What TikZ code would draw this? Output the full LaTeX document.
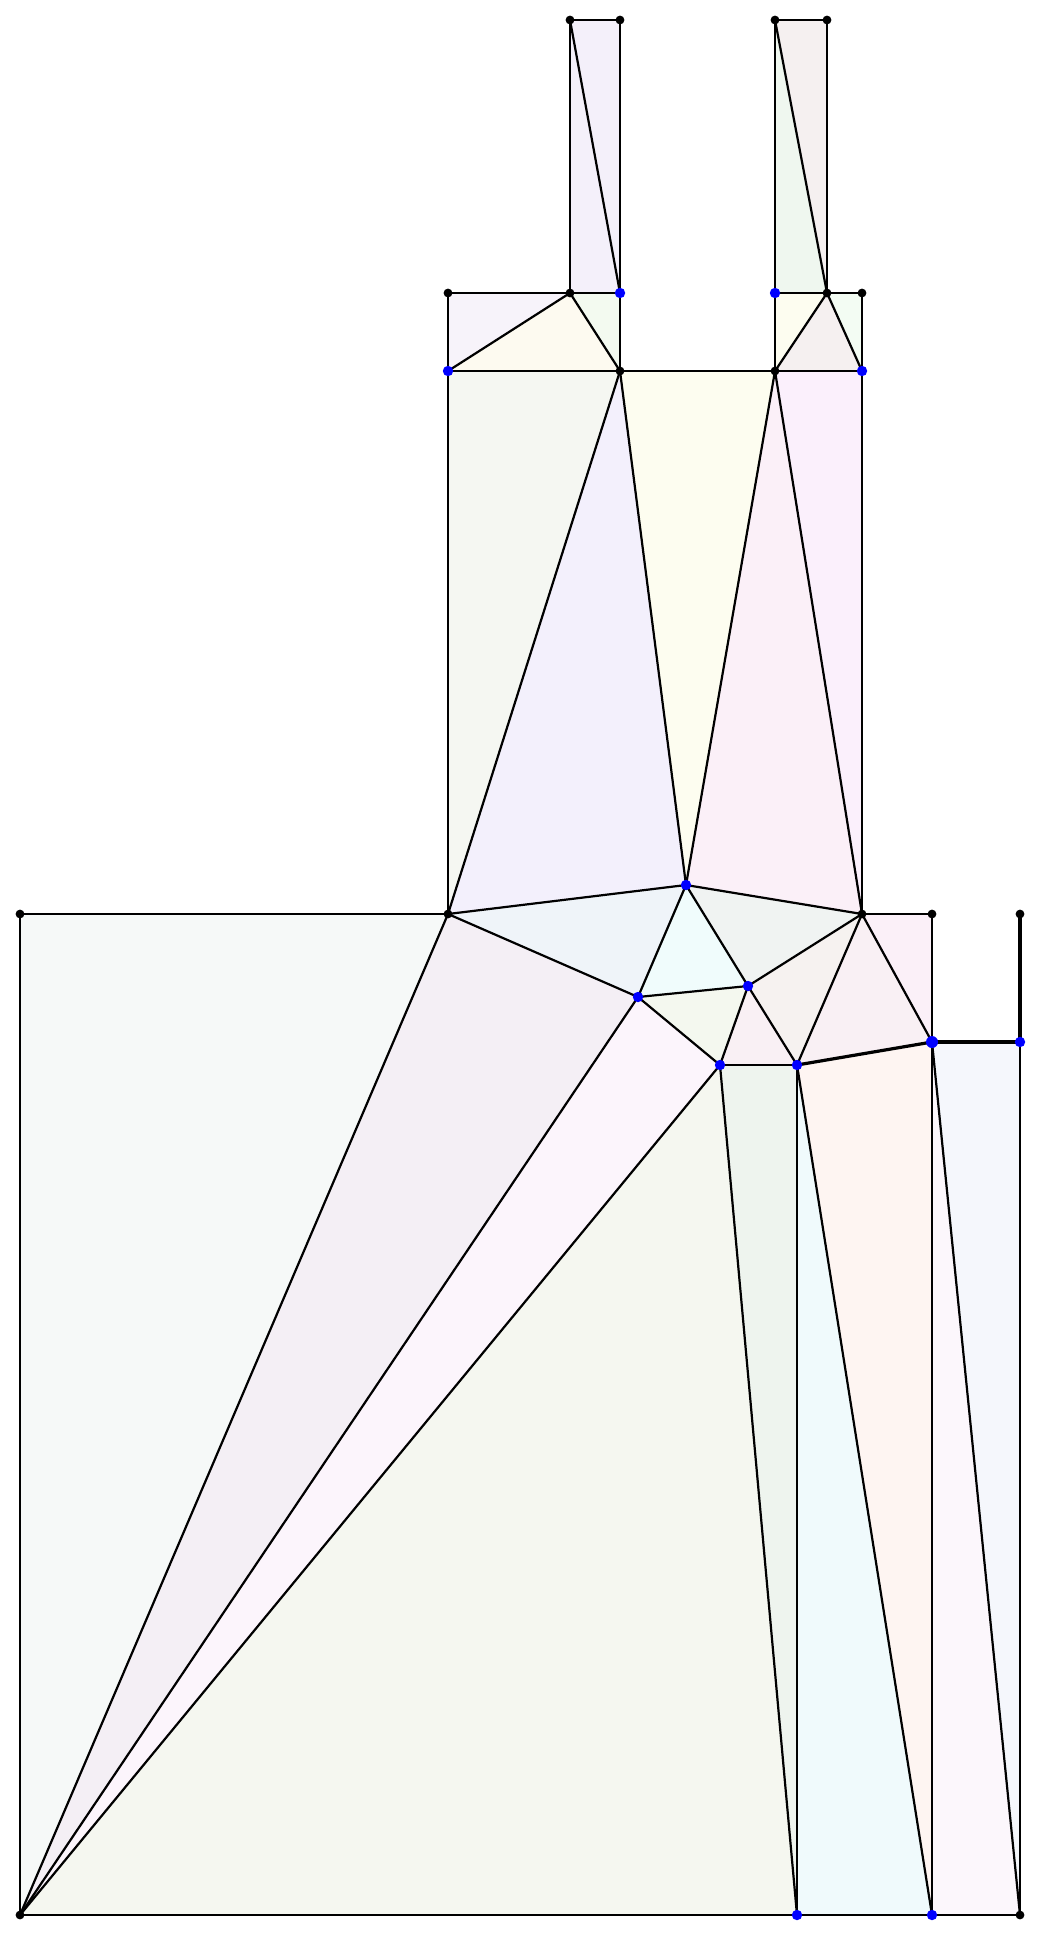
\documentclass[tikz,border=0pt]{standalone}
\usepackage{xcolor}
\usepackage{tikz}
\definecolor{meshink}{HTML}{000000}
\definecolor{meshblue}{HTML}{0000FF}
\definecolor{lavA}{HTML}{F4F0FA}
\definecolor{lavB}{HTML}{F7F3FA}
\definecolor{lavC}{HTML}{F3F0FC}
\definecolor{lilac}{HTML}{F4EFF5}
\definecolor{creamA}{HTML}{FDFAF0}
\definecolor{yellowA}{HTML}{FDFDF0}
\definecolor{greenA}{HTML}{F3FAF0}
\definecolor{greenB}{HTML}{EFF7EF}
\definecolor{greenC}{HTML}{EEF4EE}
\definecolor{mintA}{HTML}{F3FCF3}
\definecolor{rosyA}{HTML}{F5F0F0}
\definecolor{rosyB}{HTML}{F6F2F0}
\definecolor{roseA}{HTML}{F9F0F4}
\definecolor{pinkA}{HTML}{FBF0F8}
\definecolor{pinkB}{HTML}{FCF5FC}
\definecolor{pinkC}{HTML}{FCF7FC}
\definecolor{magA}{HTML}{FBF0FC}
\definecolor{sageA}{HTML}{F5F7F2}
\definecolor{sageB}{HTML}{F5F7F0}
\definecolor{oliveA}{HTML}{F4F8EF}
\definecolor{greyA}{HTML}{F6F9F8}
\definecolor{greyB}{HTML}{F0F3F2}
\definecolor{skyA}{HTML}{EFF4F9}
\definecolor{blueA}{HTML}{F5F7FC}
\definecolor{cyanA}{HTML}{F0FCFC}
\definecolor{cyanB}{HTML}{F0FAFC}
\definecolor{peachA}{HTML}{FEF5F2}
\tikzset{
  edge/.style={draw=meshink, line width=2.2pt, line join=round, line cap=round},
  heavyedge/.style={edge, line width=4.2pt},
  midedge/.style={edge, line width=3.2pt},
  bdot/.style={fill=meshink},
  udot/.style={fill=meshblue}
}

\begin{document}
\begin{tikzpicture}[x=1pt, y=-1pt]
\useasboundingbox (0,0) rectangle (1040,1935);
\coordinate (c1a) at (570,20); \coordinate (c1b) at (620,20);
\coordinate (c2a) at (775,20); \coordinate (c2b) at (827,20);
\coordinate (m1) at (448,293); \coordinate (m2) at (570,293); \coordinate (m3) at (620,293);
\coordinate (m4) at (775,293); \coordinate (m5) at (827,293); \coordinate (m6) at (862,293);
\coordinate (n1) at (448,371); \coordinate (n2) at (620,371);
\coordinate (n3) at (775,371); \coordinate (n4) at (862,371);
\coordinate (L) at (20,914); \coordinate (A) at (448,914); \coordinate (P) at (686,885);
\coordinate (Q) at (862,914); \coordinate (R) at (932,914); \coordinate (S) at (1020,914);
\coordinate (T) at (638,997); \coordinate (U) at (748,986); \coordinate (V) at (720,1065);
\coordinate (W) at (797,1065); \coordinate (X) at (932,1042); \coordinate (Y) at (1020,1042);
\coordinate (BL) at (20,1915); \coordinate (B1) at (797,1915);
\coordinate (B2) at (932,1915); \coordinate (B3) at (1020,1915);
\fill[lavA] (c1a)--(c1b)--(m3)--cycle; \fill[lavA] (c1a)--(m2)--(m3)--cycle;
\fill[greenB] (c2a)--(m4)--(m5)--cycle; \fill[rosyA] (c2a)--(c2b)--(m5)--cycle;
\fill[lavB] (m1)--(m2)--(n1)--cycle; \fill[creamA] (m2)--(n1)--(n2)--cycle;
\fill[greenA] (m2)--(m3)--(n2)--cycle; \fill[yellowA] (m4)--(m5)--(n3)--cycle;
\fill[rosyA] (m5)--(n3)--(n4)--cycle; \fill[mintA] (m5)--(m6)--(n4)--cycle;
\fill[sageA] (n1)--(n2)--(A)--cycle; \fill[lavC] (n2)--(A)--(P)--cycle;
\fill[yellowA] (n2)--(P)--(n3)--cycle; \fill[pinkA] (n3)--(P)--(Q)--cycle;
\fill[magA] (n3)--(n4)--(Q)--cycle;
\fill[greyA] (L)--(A)--(BL)--cycle; \fill[skyA] (A)--(P)--(T)--cycle;
\fill[cyanA] (P)--(T)--(U)--cycle; \fill[greyB] (P)--(U)--(Q)--cycle;
\fill[oliveA] (T)--(U)--(V)--cycle; \fill[roseA] (U)--(V)--(W)--cycle;
\fill[rosyB] (U)--(W)--(Q)--cycle; \fill[roseA] (Q)--(W)--(X)--cycle;
\fill[pinkA] (Q)--(R)--(X)--cycle; \fill[lilac] (A)--(T)--(BL)--cycle;
\fill[pinkB] (T)--(V)--(BL)--cycle; \fill[sageB] (V)--(B1)--(BL)--cycle;
\fill[greenC] (V)--(W)--(B1)--cycle; \fill[cyanB] (W)--(B1)--(B2)--cycle;
\fill[peachA] (W)--(X)--(B2)--cycle; \fill[pinkC] (X)--(B2)--(B3)--cycle;
\fill[blueA] (X)--(Y)--(B3)--cycle;
\draw[edge] (c1a)--(c1b); \draw[edge] (c1a)--(m2); \draw[edge] (c1b)--(m3); \draw[edge] (c1a)--(m3);
\draw[edge] (c2a)--(c2b); \draw[edge] (c2a)--(m4); \draw[edge] (c2b)--(m5); \draw[edge] (c2a)--(m5);
\draw[edge] (m1)--(m2); \draw[edge] (m2)--(m3); \draw[edge] (m4)--(m5); \draw[edge] (m5)--(m6);
\draw[edge] (m1)--(n1); \draw[edge] (m3)--(n2); \draw[edge] (m4)--(n3); \draw[edge] (m6)--(n4);
\draw[edge] (m2)--(n1); \draw[edge] (m2)--(n2); \draw[edge] (m5)--(n3); \draw[edge] (m5)--(n4);
\draw[edge] (n1)--(n2); \draw[edge] (n2)--(n3); \draw[edge] (n3)--(n4);
\draw[edge] (n1)--(A); \draw[edge] (n4)--(Q); \draw[edge] (n2)--(A); \draw[edge] (n2)--(P);
\draw[edge] (n3)--(P); \draw[edge] (n3)--(Q);
\draw[edge] (L)--(A); \draw[edge] (L)--(BL); \draw[edge] (BL)--(B1); \draw[edge] (B1)--(B2); \draw[edge] (B2)--(B3);
\draw[edge] (A)--(P); \draw[edge] (P)--(Q); \draw[edge] (Q)--(R); \draw[edge] (R)--(X);
\draw[edge] (A)--(T); \draw[edge] (P)--(T); \draw[edge] (P)--(U); \draw[edge] (T)--(U);
\draw[edge] (Q)--(U); \draw[edge] (U)--(V); \draw[edge] (U)--(W); \draw[edge] (T)--(V);
\draw[edge] (V)--(W); \draw[edge] (Q)--(W); \draw[edge] (Q)--(X);
\draw[edge] (BL)--(A); \draw[edge] (BL)--(T); \draw[edge] (BL)--(V);
\draw[edge] (V)--(B1); \draw[edge] (W)--(B1); \draw[edge] (W)--(B2); \draw[edge] (X)--(B2);
\draw[edge] (X)--(B3); \draw[edge] (Y)--(B3);
\draw[midedge] (W)--(X); \draw[heavyedge] (X)--(Y); \draw[heavyedge] (S)--(Y);
\foreach \v in {c1a,c1b,c2a,c2b,m1,m2,m5,m6,n2,n3,L,A,Q,R,S,BL,B3}
  \fill[bdot] (\v) circle (4.4);
\foreach \v in {m3,m4,n1,n4,P,T,U,V,W,Y,B1,B2}
  \fill[udot] (\v) circle (5.2);
\fill[udot] (X) circle (6);
\end{tikzpicture}
\end{document}
